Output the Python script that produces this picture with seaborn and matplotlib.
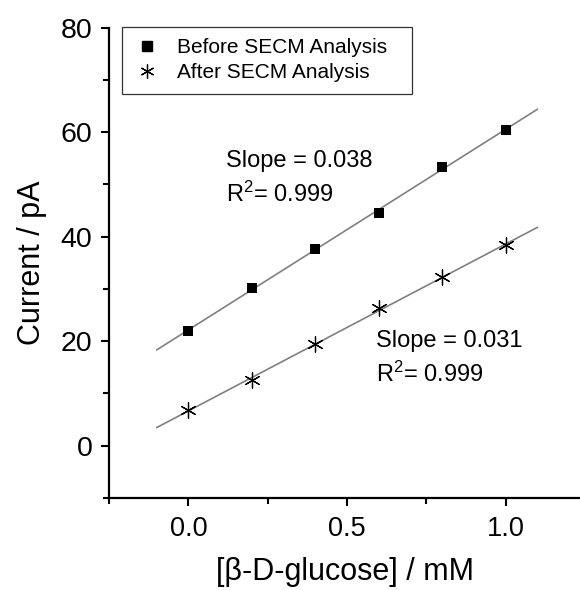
import numpy as np
import matplotlib
matplotlib.use("Agg")
import matplotlib.pyplot as plt
from matplotlib.ticker import MultipleLocator, FormatStrFormatter
import seaborn as sns

# Glucose concentration (mM) and measured current (pA)
glucose = [0.0, 0.2, 0.4, 0.6, 0.8, 1.0]
current_before = [22.0, 30.1, 37.7, 44.6, 53.4, 60.4]
current_after = [6.8, 12.6, 19.5, 26.3, 32.2, 38.4]
series_names = ["Before SECM Analysis", "After SECM Analysis"]
fit_labels = ["Slope = 0.038\nR$^{2}$= 0.999", "Slope = 0.031\nR$^{2}$= 0.999"]
fit_range = [-0.1, 1.1]

sns.set_theme(style="ticks")
plt.rcParams["font.family"] = ["Liberation Sans", "DejaVu Sans"]
plt.rcParams.update({
    "text.color": "black", "axes.labelcolor": "black",
    "xtick.color": "black", "ytick.color": "black",
    "mathtext.fontset": "custom", "mathtext.rm": "Liberation Sans",
    "mathtext.it": "Liberation Sans", "mathtext.default": "regular",
})

fig = plt.figure(figsize=(5.8, 5.9), dpi=100)
ax = fig.add_axes([0.188, 0.156, 0.812, 0.797])

# Linear fits over the extended concentration range
xs = np.linspace(fit_range[0], fit_range[1], 50)
for vals in (current_before, current_after):
    k, b = np.polyfit(glucose, vals, 1)
    sns.lineplot(x=xs, y=k * xs + b, ax=ax, color="#808080", lw=1.2, zorder=1)

asterisk = (6, 2, 0)
sns.scatterplot(x=glucose, y=current_before, marker="s", color="black", s=60,
                linewidth=0, ax=ax, zorder=3)
sns.scatterplot(x=glucose, y=current_after, marker=asterisk, color="black", s=120,
                linewidth=0.9, ax=ax, zorder=3)

# Legend built from the same marker styles, stretched to a fixed box width
handles = [
    plt.Line2D([], [], ls="none", marker="s", color="black", markersize=7),
    plt.Line2D([], [], ls="none", marker=asterisk, color="black", markersize=10, mew=0.9),
]
leg = ax.legend(handles, series_names, loc="upper left",
                bbox_to_anchor=(0.0276, 0.5, 0.616, 0.502), mode="expand",
                frameon=True, fancybox=False, edgecolor="black", fontsize=15,
                handletextpad=0.8, borderpad=0.55, labelspacing=0.3, handlelength=1.3,
                borderaxespad=0.0)
leg.get_frame().set_linewidth(0.9)
for t in leg.get_texts():
    t.set_color("black")

ax.text(0.12, 51.2, fit_labels[0], fontsize=17, va="center", ha="left", linespacing=1.5)
ax.text(0.592, 16.7, fit_labels[1], fontsize=17, va="center", ha="left", linespacing=1.5)

ax.set_xlim(-0.25, 1.234)
ax.set_ylim(-10, 80)
ax.xaxis.set_major_locator(MultipleLocator(0.5))
ax.xaxis.set_minor_locator(MultipleLocator(0.25))
ax.yaxis.set_major_locator(MultipleLocator(20))
ax.yaxis.set_minor_locator(MultipleLocator(10))
ax.xaxis.set_major_formatter(FormatStrFormatter("%.1f"))

for side in ("top", "right"):
    ax.spines[side].set_visible(False)
for side in ("left", "bottom"):
    ax.spines[side].set_linewidth(1.6)
    ax.spines[side].set_color("black")
ax.tick_params(which="major", direction="out", length=6, width=1.5, colors="black")
ax.tick_params(which="minor", direction="out", length=4, width=1.5, colors="black")
ax.tick_params(axis="y", which="major", labelsize=20.5, pad=6)
ax.tick_params(axis="x", which="major", labelsize=19.5, pad=7)

ax.set_xlabel("[\u03b2-D-glucose] / mM", fontsize=22, labelpad=11)
ax.set_ylabel("Current / pA", fontsize=22, labelpad=10)

fig.savefig("out.png", dpi=100)
